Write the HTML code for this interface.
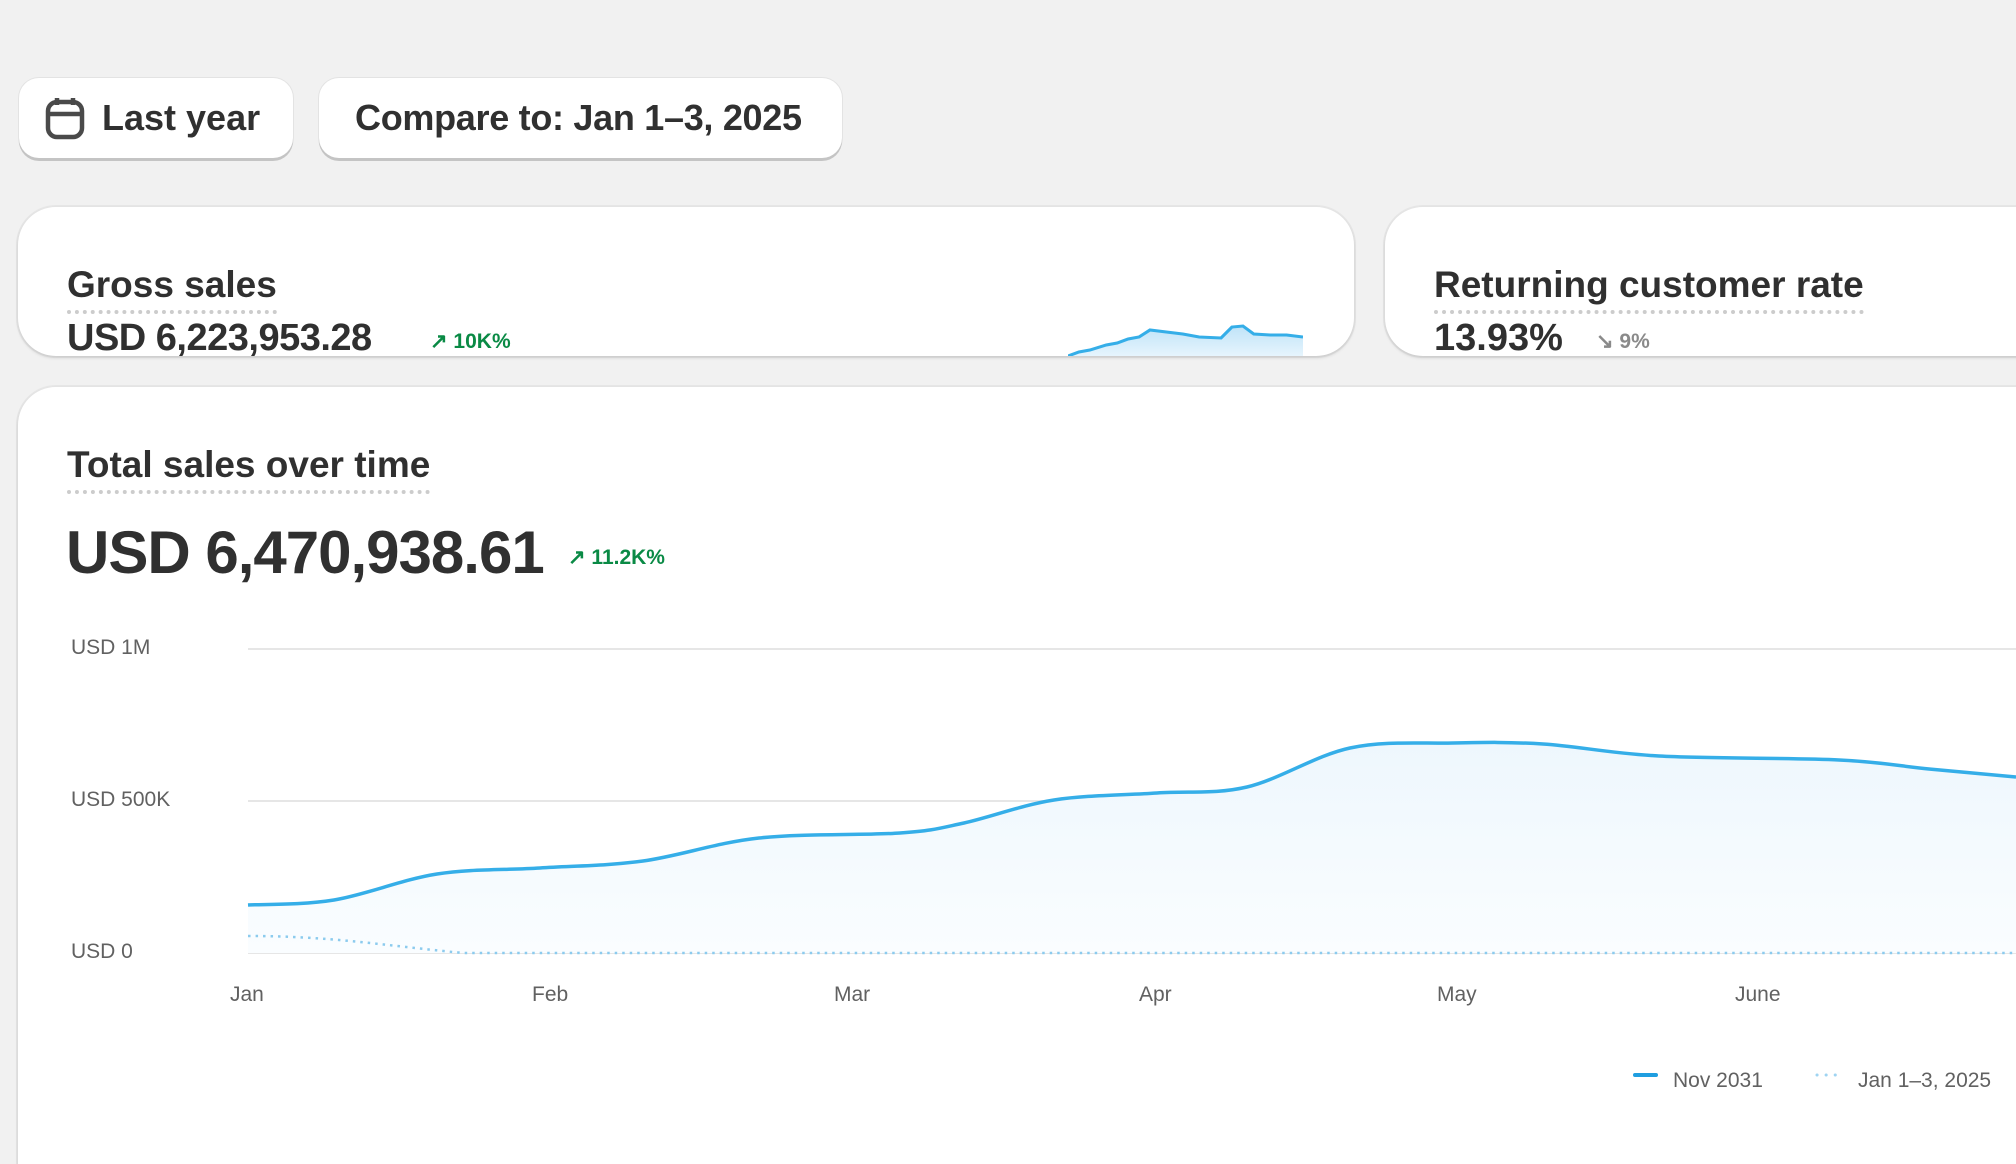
<!DOCTYPE html>
<html style="width:2016px;height:1164px;overflow:hidden"><head><meta charset="utf-8"><style>
*{box-sizing:border-box;margin:0;padding:0}
body{width:2016px;height:1164px;background:#f1f1f1;font-family:"Liberation Sans",sans-serif;color:#303030;position:relative;overflow:hidden}
.btn{position:absolute;top:78px;height:80px;background:#fff;border-radius:20px;box-shadow:0 3px 0 #c4c4c4,0 0 0 1px #e3e3e3;font-size:36px;display:flex;align-items:center;font-weight:bold}
.card{position:absolute;background:#fff;border-radius:38px;box-shadow:0 2px 3px rgba(0,0,0,.12),0 0 0 2px #e6e6e6;overflow:hidden}
.ttl{position:absolute;font-size:37px;font-weight:bold;border-bottom:4px dotted #ccc;padding-bottom:3px;line-height:44px}
.ax{position:absolute;font-size:21px;color:#616161}
</style></head><body>
<div class="btn" style="left:19px;width:274px">
<svg style="position:absolute;left:26px;top:18px" width="40" height="44" viewBox="0 0 40 44"><rect x="3" y="6" width="34" height="35" rx="9" fill="none" stroke="#4a4a4a" stroke-width="4.5"/><line x1="3" y1="18" x2="37" y2="18" stroke="#4a4a4a" stroke-width="4.5"/><line x1="12" y1="2" x2="12" y2="9" stroke="#4a4a4a" stroke-width="4.5"/><line x1="28" y1="2" x2="28" y2="9" stroke="#4a4a4a" stroke-width="4.5"/></svg>
<span style="position:absolute;left:83px">Last year</span></div>
<div class="btn" style="left:319px;width:523px"><span style="position:absolute;left:36px;letter-spacing:-0.3px">Compare to: Jan 1–3, 2025</span></div>

<div class="card" style="left:18px;top:207px;width:1336px;height:149px">
<div class="ttl" style="left:49px;top:56px">Gross sales</div>
<div style="position:absolute;left:49px;top:110px;font-size:38px;font-weight:bold;letter-spacing:-0.5px">USD 6,223,953.28</div>
<div style="position:absolute;left:412px;top:122px;font-size:21px;color:#0a8a45;font-weight:700">↗ 10K%</div>
<svg style="position:absolute;left:1050px;top:105px" width="235" height="50" viewBox="0 0 215 50" preserveAspectRatio="none"><defs><linearGradient id="g1" x1="0" y1="0" x2="0" y2="1"><stop offset="0" stop-color="#bfe3f8"/><stop offset="1" stop-color="#eef8fe"/></linearGradient></defs>
<path d="M0,44 L10,40 L20,38 L35,33 L45,31 L55,27 L65,25 L75,18 L90,20 L105,22 L120,25 L140,26 L150,15 L160,14 L170,22 L185,23 L200,23 L215,25 L215,50 L0,50Z" fill="url(#g1)"/>
<path d="M0,44 L10,40 L20,38 L35,33 L45,31 L55,27 L65,25 L75,18 L90,20 L105,22 L120,25 L140,26 L150,15 L160,14 L170,22 L185,23 L200,23 L215,25" fill="none" stroke="#35aee8" stroke-width="3"/>
<line x1="0" y1="49" x2="215" y2="49" stroke="#9fd4f2" stroke-width="2" stroke-dasharray="2 5"/></svg>
</div>

<div class="card" style="left:1385px;top:207px;width:680px;height:149px">
<div class="ttl" style="left:49px;top:56px">Returning customer rate</div>
<div style="position:absolute;left:49px;top:110px;font-size:38px;font-weight:bold">13.93%</div>
<div style="position:absolute;left:211px;top:122px;font-size:21px;color:#8a8a8a;font-weight:700">↘ 9%</div>
</div>

<div class="card" style="left:18px;top:387px;width:2060px;height:777px;border-bottom-left-radius:0;border-bottom-right-radius:0">
<div class="ttl" style="left:49px;top:56px">Total sales over time</div>
<div style="position:absolute;left:48px;top:131px;font-size:60px;font-weight:bold;letter-spacing:-1px">USD 6,470,938.61</div>
<div style="position:absolute;left:550px;top:158px;font-size:21px;color:#0a8a45;font-weight:700">↗ 11.2K%</div>
</div>

<svg style="position:absolute;left:0;top:0" width="2016" height="1164">
<defs><linearGradient id="g2" x1="0" y1="0" x2="0" y2="1"><stop offset="0" stop-color="#eef7fd"/><stop offset="1" stop-color="#fafdff"/></linearGradient></defs>
<line x1="248" y1="649" x2="2016" y2="649" stroke="#e6e6e6" stroke-width="2"/>
<line x1="248" y1="801" x2="2016" y2="801" stroke="#e6e6e6" stroke-width="2"/>
<line x1="248" y1="953" x2="2016" y2="953" stroke="#e6e6e6" stroke-width="2"/>
<path id="area" fill="url(#g2)"/>
<path id="ln" fill="none" stroke="#35aee8" stroke-width="3.5"/>
<path d="M248,936 C330,936 380,945 463,953 L2016,953" fill="none" stroke="#8ccbee" stroke-width="2.5" stroke-dasharray="2.5 5"/>
<rect x="1633" y="1073" width="25" height="4" rx="2" fill="#1f9ee0"/>
<line x1="1817" y1="1075" x2="1843" y2="1075" stroke="#9fd4f2" stroke-width="3" stroke-linecap="round" stroke-dasharray="0.1 9"/>
</svg>
<div class="ax" style="left:71px;top:636px">USD 1M</div>
<div class="ax" style="left:71px;top:788px">USD 500K</div>
<div class="ax" style="left:71px;top:940px">USD 0</div>
<div class="ax" style="left:230px;top:983px">Jan</div>
<div class="ax" style="left:532px;top:983px">Feb</div>
<div class="ax" style="left:834px;top:983px">Mar</div>
<div class="ax" style="left:1139px;top:983px">Apr</div>
<div class="ax" style="left:1437px;top:983px">May</div>
<div class="ax" style="left:1735px;top:983px">June</div>
<div class="ax" style="left:1673px;top:1069px">Nov 2031</div>
<div class="ax" style="left:1858px;top:1069px">Jan 1–3, 2025</div>
<script>
var p=[[248,905],[334,900],[437,874],[540,868],[643,861],[759,838],[900,833],[964,823],[1054,800],[1157,793],[1247,787],[1350,748],[1453,743],[1543,744],[1659,756],[1839,760],[1929,769],[2016,777]];
var d="M"+p[0];
for(var i=0;i<p.length-1;i++){var a=p[i-1]||p[i],b=p[i],c=p[i+1],e=p[i+2]||c;
d+=" C"+(b[0]+(c[0]-a[0])/6)+","+(b[1]+(c[1]-a[1])/6)+" "+(c[0]-(e[0]-b[0])/6)+","+(c[1]-(e[1]-b[1])/6)+" "+c;}
document.getElementById('ln').setAttribute('d',d);
document.getElementById('area').setAttribute('d',d+" L2016,953 L248,953Z");
</script>
</body></html>
